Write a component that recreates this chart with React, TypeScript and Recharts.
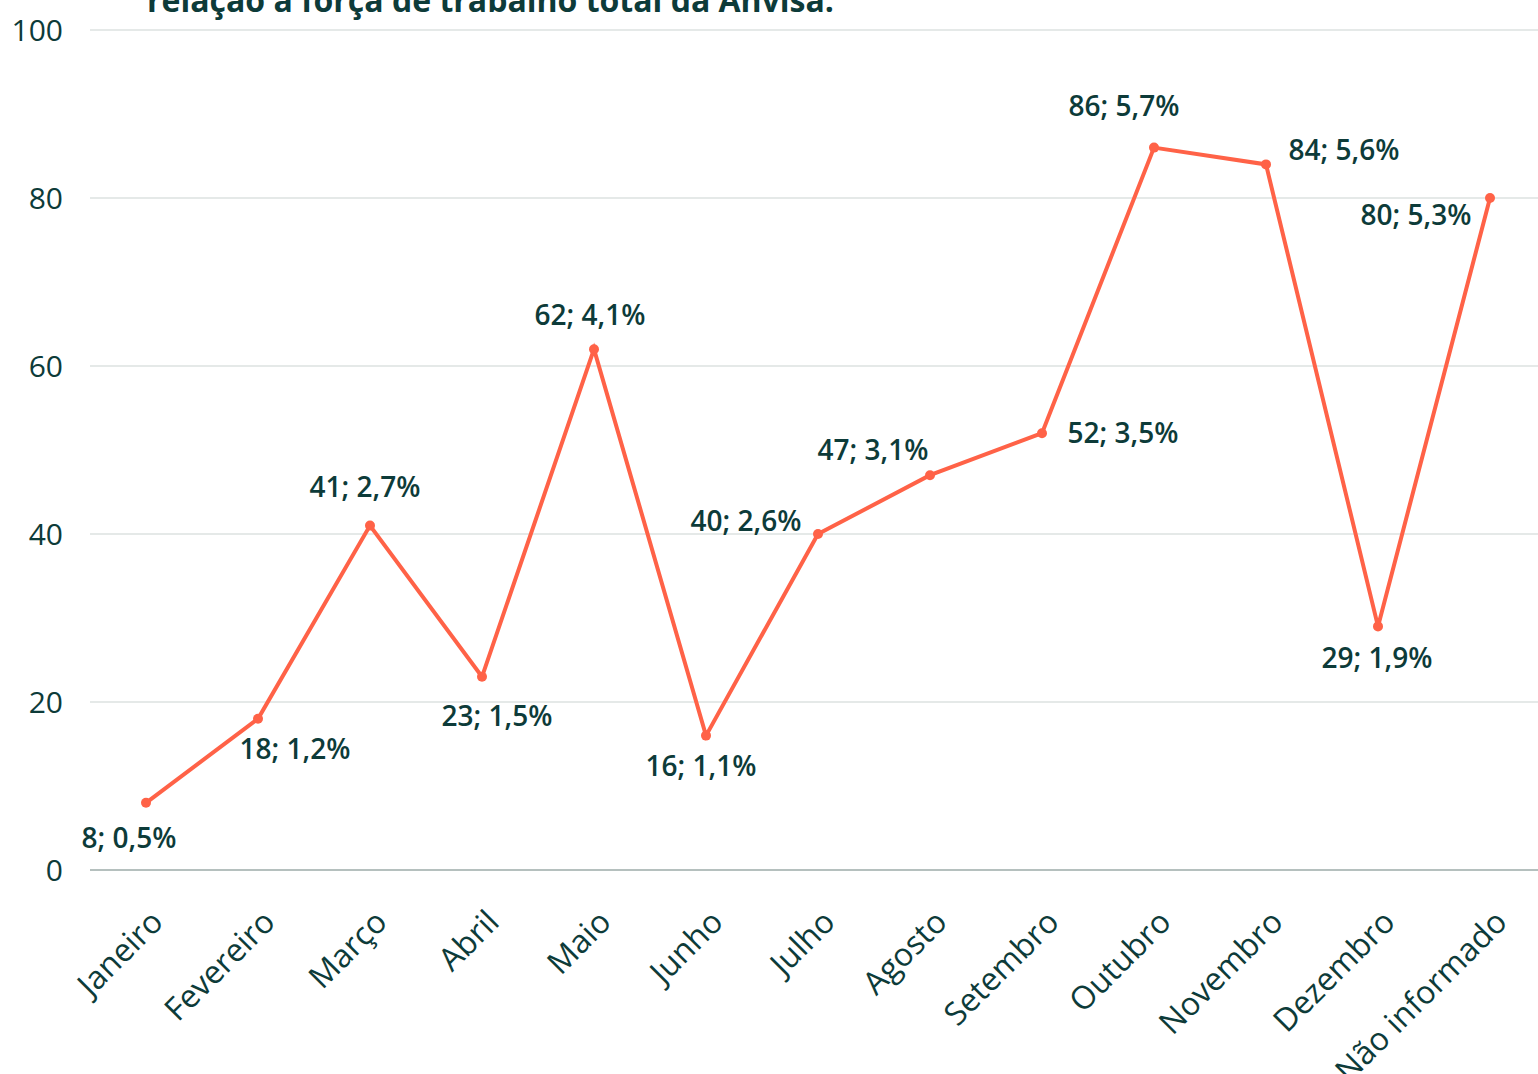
import { CartesianGrid, Line, LineChart, XAxis, YAxis, LabelList } from 'recharts';

const months = [
  'Janeiro',
  'Fevereiro',
  'Março',
  'Abril',
  'Maio',
  'Junho',
  'Julho',
  'Agosto',
  'Setembro',
  'Outubro',
  'Novembro',
  'Dezembro',
  'Não informado',
];
const counts = [8, 18, 41, 23, 62, 16, 40, 47, 52, 86, 84, 29, 80];
const percents = ['0,5%', '1,2%', '2,7%', '1,5%', '4,1%', '1,1%', '2,6%', '3,1%', '3,5%', '5,7%', '5,6%', '1,9%', '5,3%'];
const yTicks = [0, 20, 40, 60, 80, 100];

// label offsets (dx, dy) from each point, as placed in the original
const labelOffsets: [number, number][] = [
  [-17, 35],
  [37, 30],
  [-5, -38],
  [15, 39],
  [-4, -34],
  [-5, 31],
  [-72, -13],
  [-57, -25],
  [81, 0],
  [-30, -41],
  [78, -14],
  [-1, 32],
  [-74, 17],
];

const data = months.map((m, i) => ({ month: m, value: counts[i], pct: percents[i] }));

const TEXT = '#0d3b39';
const LINE = '#ff6247';
const FONT = '"Open Sans", Lato, sans-serif';

const MonthTick = (props: any) => {
  const { x, y, payload } = props;
  return (
    <g transform={`translate(${x + 11},${y + 38})`}>
      <text
        x={0}
        y={0}
        dy='0.35em'
        textAnchor='end'
        transform='rotate(-45)'
        fill={TEXT}
        fontSize={32}
        fontFamily={FONT}
      >
        {payload.value}
      </text>
    </g>
  );
};

const PointLabel = (props: any) => {
  const { x, y, index } = props;
  const [dx, dy] = labelOffsets[index];
  return (
    <text
      x={x + dx}
      y={y + dy}
      dy='0.35em'
      textAnchor='middle'
      fill={TEXT}
      fontSize={28}
      fontWeight={600}
      fontFamily={FONT}
    >
      {`${counts[index]}; ${percents[index]}`}
    </text>
  );
};

export default function App() {
  return (
    <div
      style={{
        position: 'absolute',
        left: 0,
        top: 0,
        width: 1538,
        height: 1074,
        overflow: 'hidden',
        background: '#fff',
      }}
    >
      <div
        style={{
          position: 'absolute',
          left: 147,
          top: -16,
          fontFamily: FONT,
          fontWeight: 700,
          fontSize: 32,
          lineHeight: '32px',
          color: TEXT,
          whiteSpace: 'nowrap',
        }}
      >
        relação à força de trabalho total da Anvisa.
      </div>
      <LineChart
        width={1546}
        height={1110}
        data={data}
        margin={{ top: 30, right: 0, bottom: 0, left: 0 }}
      >
        <CartesianGrid stroke='#dde2e1' strokeWidth={1.5} vertical={false} />
        <XAxis
          dataKey='month'
          interval={0}
          height={240}
          padding={{ left: 56, right: 56 }}
          axisLine={{ stroke: '#a4b2b0', strokeWidth: 1.5 }}
          tickLine={false}
          tick={<MonthTick />}
        />
        <YAxis
          width={90}
          domain={[0, 100]}
          ticks={yTicks}
          axisLine={false}
          tickLine={false}
          tickSize={0}
          tickMargin={27}
          tick={{ fill: TEXT, fontSize: 30, fontFamily: FONT }}
        />
        <Line
          type='linear'
          dataKey='value'
          stroke={LINE}
          strokeWidth={4}
          dot={{ r: 5, fill: LINE, stroke: LINE, strokeWidth: 0 }}
          activeDot={false}
          isAnimationActive={false}
        >
          <LabelList dataKey='value' content={<PointLabel />} />
        </Line>
      </LineChart>
    </div>
  );
}
